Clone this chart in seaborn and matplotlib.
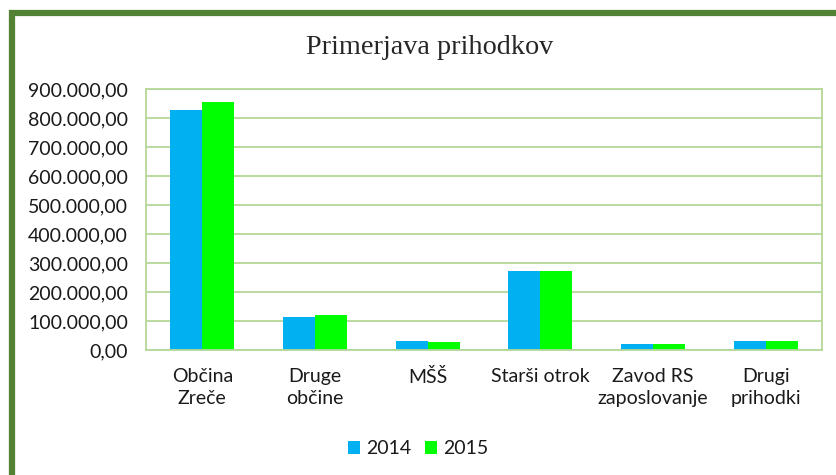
import matplotlib
matplotlib.use("Agg")
import matplotlib.pyplot as plt
import seaborn as sns
import pandas as pd
from matplotlib.patches import Rectangle
from matplotlib.ticker import FuncFormatter, MultipleLocator

categories = ["Občina\nZreče", "Druge\nobčine", "MŠŠ", "Starši otrok", "Zavod RS\nzaposlovanje", "Drugi\nprihodki"]
values_2014 = [827000, 114000, 31000, 273000, 22000, 31000]
values_2015 = [855000, 120000, 27000, 273000, 22000, 31000]
years = ["2014", "2015"]
colors = ["#00B0F0", "#00FF00"]

df = pd.DataFrame({
    "kat": categories * 2,
    "leto": [years[0]] * len(categories) + [years[1]] * len(categories),
    "vrednost": values_2014 + values_2015,
})

sns.set_theme(style="white")
plt.rcParams["font.family"] = ["Lato", "DejaVu Sans"]

fig = plt.figure(figsize=(8.37, 4.75), dpi=100)
fig.patch.set_facecolor("white")

# outer chart border
fig.patches.append(Rectangle((12.5 / 837, -0.1), 1.2, 1 - 12.5 / 475 + 0.1,
                             transform=fig.transFigure, fill=False,
                             edgecolor="#548235", linewidth=4.5))

ax = fig.add_axes([146 / 837, 125 / 475, (822 - 146) / 837, (350 - 89) / 475])
sns.barplot(data=df, x="kat", y="vrednost", hue="leto", palette=colors,
            width=0.57, gap=0, ax=ax, saturation=1, edgecolor="none", legend=True)

ax.set_ylim(0, 900000)
ax.yaxis.set_major_locator(MultipleLocator(100000))

def fmt(v, pos):
    s = f"{v:,.2f}"
    return s.replace(",", "X").replace(".", ",").replace("X", ".")

ax.yaxis.set_major_formatter(FuncFormatter(fmt))
ax.grid(axis="y", color="#B4D89A", linewidth=1.3)
ax.set_axisbelow(True)
for sp in ax.spines.values():
    sp.set_visible(True)
    sp.set_color("#B4D89A")
    sp.set_linewidth(1.3)
ax.set_xlabel("")
ax.set_ylabel("")
ax.tick_params(axis="y", labelsize=14, pad=13, length=0, colors="#1a1a1a")
ax.tick_params(axis="x", labelsize=14, pad=13, length=0, colors="#1a1a1a")
for lbl in ax.get_xticklabels():
    lbl.set_linespacing(1.35)

handles, labels = ax.get_legend_handles_labels()
ax.get_legend().remove()
fig.legend(handles, labels, loc="center", bbox_to_anchor=(418 / 837, 1 - 449 / 475),
           ncol=2, frameon=False, fontsize=14, handlelength=0.65, handleheight=0.65,
           handletextpad=0.3, columnspacing=0.7, labelcolor="#1a1a1a")

fig.text(430 / 837, 1 - 47 / 475, "Primerjava prihodkov", ha="center", va="center",
         fontsize=20.3, family=["Liberation Serif", "DejaVu Serif"])

fig.savefig("out.png", dpi=100, facecolor="white")
